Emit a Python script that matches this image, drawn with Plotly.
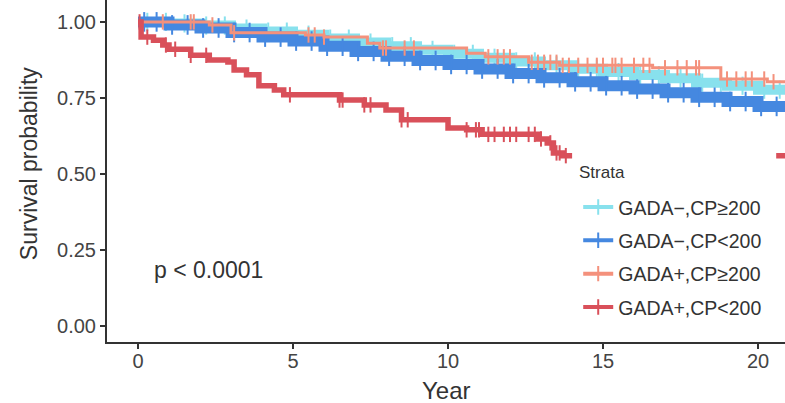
import numpy as np
import plotly.graph_objects as go

# ---------------- data ----------------
strata = ["GADA\u2212,CP\u2265200", "GADA\u2212,CP<200", "GADA+,CP\u2265200", "GADA+,CP<200"]
colors = ["#88E1ED", "#4588E0", "#F4917C", "#D9505A"]

# GADA-, CP>=200 (cyan)
cyan_t = [0, 1, 2, 3, 4, 5, 6, 7, 8, 9, 10, 11, 12, 13, 14, 15, 16, 17, 18, 19, 20, 20.9]
cyan_s = [1.0, 0.995, 0.988, 0.978, 0.968, 0.958, 0.945, 0.932, 0.920, 0.908, 0.895,
          0.882, 0.870, 0.857, 0.846, 0.835, 0.825, 0.815, 0.800, 0.790, 0.777, 0.768]
cyan_cens = [0.3, 0.9, 1.5, 2.2, 2.8, 3.5, 4.2, 4.8, 5.5, 6.2, 6.8, 7.5, 8.2, 8.8, 9.5,
             10.2, 10.8, 11.5, 12.2, 12.8, 13.5, 14.2, 14.8, 15.5, 16.2, 16.8, 17.5,
             18.2, 18.8, 19.5, 20.2, 20.7]

# GADA-, CP<200 (blue)
blue_t = [0, 1, 2, 3, 4, 5, 6, 7, 8, 9, 10, 11, 12, 13, 14, 15, 16, 17, 18, 19, 20, 20.9]
blue_s = [1.0, 0.990, 0.980, 0.965, 0.950, 0.937, 0.920, 0.903, 0.887, 0.873, 0.860,
          0.845, 0.830, 0.816, 0.803, 0.790, 0.779, 0.767, 0.752, 0.738, 0.722, 0.710]
blue_cens = [0.2, 0.6, 1.1, 1.6, 2.1, 2.6, 3.1, 3.6, 4.1, 4.6, 5.1, 5.6, 6.1, 6.6, 7.1,
             7.6, 8.1, 8.6, 9.1, 9.6, 10.1, 10.6, 11.1, 11.6, 12.1, 12.6, 13.1, 13.6,
             14.1, 14.6, 15.1, 15.6, 16.1, 16.6, 17.1, 17.6, 18.1, 18.6, 19.1, 19.6,
             20.1, 20.6]

# GADA+, CP>=200 (salmon)
salmon_t = [0, 2.3, 3.0, 5.4, 6.0, 7.4, 7.8, 10.6, 11.2, 12.6, 13.6, 16.6, 18.8, 20.3, 20.9]
salmon_s = [1.0, 0.990, 0.964, 0.957, 0.950, 0.930, 0.914, 0.897, 0.885, 0.867, 0.857,
            0.849, 0.812, 0.803, 0.803]
salmon_cens = [0.8, 1.7, 1.8, 2.4, 3.1, 5.5, 5.7, 6.0, 7.9, 8.0, 8.6, 8.9, 11.3, 11.6,
               11.8, 12.0, 12.7, 12.9, 13.1, 13.3, 13.5, 13.7, 13.9, 14.2, 14.5, 14.8,
               15.0, 15.3, 15.4, 15.6, 16.0, 16.3, 16.5, 17.0, 17.4, 17.7, 18.0, 18.1,
               19.0, 19.3, 19.6, 19.8, 20.2, 20.5]

# GADA+, CP<200 (red)
red_t = [0, 0.1, 0.5, 0.8, 1.0, 1.7, 2.3, 2.9, 3.1, 3.5, 3.9, 4.4, 4.7, 6.5, 7.3, 8.0,
         8.5, 10.0, 10.6, 11.1, 12.9, 13.2, 13.4, 13.7, 20.9]
red_s = [1.0, 0.950, 0.940, 0.924, 0.910, 0.890, 0.875, 0.868, 0.842, 0.826, 0.790,
         0.776, 0.760, 0.743, 0.727, 0.710, 0.678, 0.651, 0.645, 0.630, 0.615, 0.602,
         0.569, 0.560, 0.560]
red_cens = [0.05, 0.3, 0.9, 1.2, 1.7, 2.2, 4.9, 6.5, 6.6, 7.3, 7.5, 8.5, 8.7, 10.6,
            10.9, 11.0, 11.3, 11.5, 11.8, 12.0, 12.2, 12.6, 12.8, 13.0, 13.3, 13.5,
            13.6, 13.8]

legend_title = "Strata"
p_text = "p < 0.0001"
x_ticks = [0, 5, 10, 15, 20]
y_ticks = [0.0, 0.25, 0.5, 0.75, 1.0]
y_ticklabels = ["0.00", "0.25", "0.50", "0.75", "1.00"]

series = [
    (cyan_t, cyan_s, cyan_cens),
    (blue_t, blue_s, blue_cens),
    (salmon_t, salmon_s, salmon_cens),
    (red_t, red_s, red_cens),
]
line_w = [10, 11, 3, 5.5]
tick_size = [13, 14, 11, 11]


def step_at(t, s, x):
    t = np.asarray(t)
    s = np.asarray(s)
    idx = np.searchsorted(t, x, side="right") - 1
    return s[np.clip(idx, 0, len(s) - 1)]


FONT = "Liberation Sans, Arial, sans-serif"
fig = go.Figure()

for i, (t, s, c) in enumerate(series):
    fig.add_trace(go.Scatter(
        x=t, y=s, mode="lines", line=dict(color=colors[i], width=line_w[i], shape="hv"),
        showlegend=False, hoverinfo="skip"))
    fig.add_trace(go.Scatter(
        x=c, y=step_at(t, s, c), mode="markers",
        marker=dict(symbol="line-ns", size=tick_size[i], color=colors[i],
                    line=dict(color=colors[i], width=2)),
        showlegend=False, hoverinfo="skip"))

# legend-only entries
for i, name in enumerate(strata):
    fig.add_trace(go.Scatter(
        x=[None], y=[None], mode="lines+markers", name=name, legendgroup=name,
        line=dict(color=colors[i], width=4),
        marker=dict(symbol="line-ns", size=11, color=colors[i],
                    line=dict(color=colors[i], width=2))))

# legend background box (white, as in the ggplot legend that sits inside the panel)
fig.add_shape(type="rect", xref="paper", yref="paper", x0=0.686, x1=0.987,
              y0=0.041, y1=0.573, fillcolor="white", line=dict(width=0), layer="above")

fig.add_annotation(x=0.693, y=0.497, xref="paper", yref="paper", text=legend_title,
                   showarrow=False, xanchor="left", yanchor="middle",
                   font=dict(family=FONT, size=17, color="#333333"))

fig.add_annotation(x=0.45, y=0.184, xref="x", yref="y", text=p_text, showarrow=False,
                   xanchor="left", yanchor="middle",
                   font=dict(family=FONT, size=23, color="#333333"))

# axis titles
fig.add_annotation(x=-0.115, y=0.523, xref="paper", yref="paper", text="Survival probability",
                   textangle=-90, showarrow=False, xanchor="center", yanchor="middle",
                   font=dict(family=FONT, size=23, color="#333333"))
fig.add_annotation(x=0.5, y=-0.143, xref="paper", yref="paper", text="Year",
                   showarrow=False, xanchor="center", yanchor="middle",
                   font=dict(family=FONT, size=24, color="#333333"))

fig.update_layout(
    width=785, height=403,
    margin=dict(l=107, r=0, t=0, b=61),
    paper_bgcolor="white", plot_bgcolor="white",
    font=dict(family=FONT, color="#333333"),
    showlegend=True,
    legend=dict(
        x=0.695, y=0.451, xanchor="left", yanchor="top",
        bgcolor="rgba(255,255,255,0)", borderwidth=0,
        font=dict(family=FONT, size=19.5, color="#333333"),
        traceorder="grouped", tracegroupgap=5,
    ),
    xaxis=dict(range=[-1.0, 20.87], tickvals=x_ticks, ticks="outside", ticklen=5,
               tickwidth=1.5, tickcolor="#333333", showgrid=False, zeroline=False,
               showline=True, linecolor="#333333", linewidth=2, ticklabelstandoff=-5,
               tickfont=dict(family=FONT, size=20, color="#444444")),
    yaxis=dict(range=[-0.053, 1.072], tickvals=y_ticks, ticktext=y_ticklabels,
               ticks="outside", ticklen=5, tickwidth=1.5, tickcolor="#333333",
               showgrid=False, zeroline=False, showline=True, linecolor="#333333",
               linewidth=2, tickfont=dict(family=FONT, size=20, color="#444444")),
)

fig.write_html("out.html")
